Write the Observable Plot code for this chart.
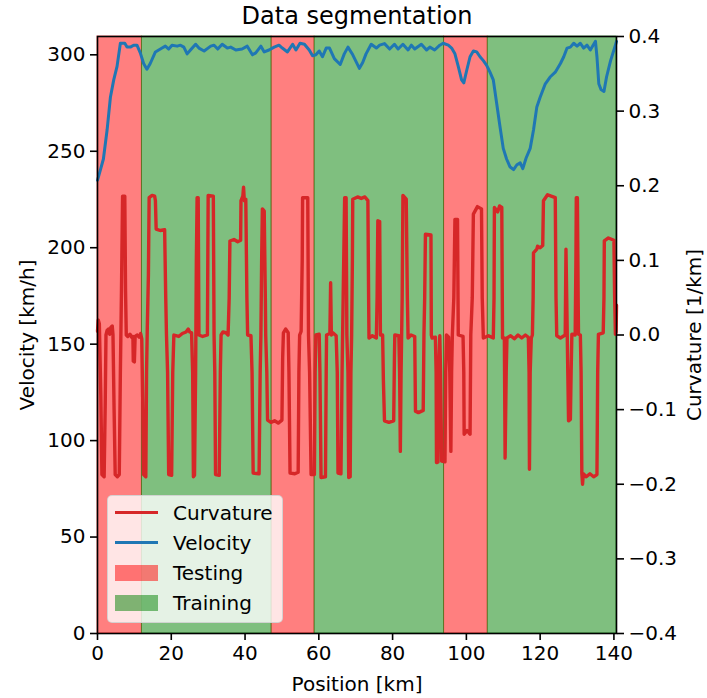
<!DOCTYPE html>
<html><head><meta charset="utf-8">
<script src="https://cdn.jsdelivr.net/npm/d3@7"></script>
<script src="https://cdn.jsdelivr.net/npm/@observablehq/plot@0.6"></script>
<style>
body{margin:0;background:#fff;}
#wrap{position:relative;width:707px;height:698px;font-family:"DejaVu Sans",sans-serif;}
.lg{position:absolute;}
.lt{position:absolute;font-size:20px;line-height:24px;color:#000;white-space:nowrap;}
</style></head><body><div id="wrap"></div>
<script>
const xTicks = [0, 20, 40, 60, 80, 100, 120, 140];
const velocityTicks = [0, 50, 100, 150, 200, 250, 300];
const curvatureTicks = [-0.4, -0.3, -0.2, -0.1, 0, 0.1, 0.2, 0.3, 0.4];
const curvatureTickLabels = ["−0.4", "−0.3", "−0.2", "−0.1", "0.0", "0.1", "0.2", "0.3", "0.4"];
const segmentNames = ["Testing", "Training", "Testing", "Training", "Testing", "Training"];
const segmentStart = [0, 12.05, 47.2, 58.85, 93.95, 105.8];
const segmentEnd = [12.05, 47.2, 58.85, 93.95, 105.8, 140.7];

const velocityPos = [0, 0.3, 1.6, 2.6, 3.5, 4.4, 5.3, 6.2, 7.4, 8.0, 8.9, 9.8, 10.7, 11.6, 12.5, 13.4, 14.3, 15.7, 16.6, 17.5, 18.4, 19.3, 20.2, 21.6, 22.5, 23.4, 24.3, 25.2, 26.6, 27.5, 28.9, 30.7, 31.6, 32.6, 33.8, 35.2, 36.1, 37.5, 39.2, 40.6, 42.0, 42.9, 44.3, 45.2, 46.5, 47.9, 49.2, 50.1, 51.5, 52.9, 53.8, 54.9, 56.1, 57.4, 58.3, 59.2, 60.1, 61.0, 62.0, 62.9, 64.2, 65.8, 66.9, 67.9, 69.2, 71.0, 71.9, 72.8, 74.2, 75.6, 76.5, 77.8, 79.2, 80.5, 81.5, 82.8, 84.2, 85.1, 86.0, 87.8, 89.2, 90.1, 91.4, 92.8, 93.7, 95.1, 96.0, 96.9, 97.8, 98.7, 99.3, 100.1, 101.0, 101.9, 102.8, 103.7, 104.6, 105.5, 106.4, 107.3, 108.2, 109.1, 110.0, 110.9, 111.8, 112.8, 113.7, 114.6, 115.3, 116.2, 117.3, 118.2, 119.1, 120.0, 121.4, 122.7, 124.1, 125.5, 126.4, 127.3, 128.2, 129.1, 130.0, 130.9, 131.8, 132.7, 133.6, 135.0, 135.4, 135.9, 136.5, 137.3, 138.0, 139.1, 140.4, 140.7];
const velocityVal = [235, 237, 246, 261, 278, 287, 294, 306, 306, 304, 304, 305, 305, 301, 295.5, 292.5, 295.5, 301.5, 302.5, 303.5, 304.5, 303, 305, 304.5, 305, 304, 300.5, 302.5, 305.5, 303.5, 302, 304.5, 305, 303, 305.5, 303.5, 304, 302.5, 303, 304.5, 300, 301, 304.5, 301.5, 302.5, 304, 305, 303.5, 301.5, 305.5, 302.5, 306, 305.5, 302.5, 299.5, 300, 302, 299, 303.5, 303.5, 298, 295, 300.5, 304, 300, 293, 296, 300.5, 305.5, 303.5, 305, 305.8, 303, 305.5, 303, 305.5, 302.5, 305, 303, 305.5, 302.5, 304, 302.5, 305, 306, 305, 303.5, 300.5, 294, 287, 285.5, 292, 299, 302, 301.5, 299, 297, 294.5, 291, 287, 275, 263, 251.5, 246, 242, 240.5, 243, 244, 241, 246.5, 251.5, 261, 273, 278, 285, 288.5, 291, 295.5, 299, 303.5, 304, 306, 304.5, 306, 303.5, 305, 302.5, 307, 299, 285, 282, 281, 288.5, 297, 305, 307];

// [position km, curvature 1/km]
const curvature = [
[0.0,0.005],[0.2,0.02],[0.5,0.015],[0.9,-0.08],[1.2,-0.187],[1.8,-0.19],[2.1,-0.09],[2.3,0.0],[2.6,0.006],[3.0,0.008],[3.3,0.001],[3.6,0.01],[4.0,0.012],[4.2,0.0],[4.5,-0.1],[4.8,-0.187],[5.4,-0.19],[5.9,-0.187],[6.2,-0.05],[6.5,0.06],[6.8,0.186],[7.4,0.186],[7.6,0.06],[7.8,0.0],[8.2,-0.002],[8.8,0.001],[9.3,-0.003],[9.6,-0.002],[9.7,-0.035],[10.0,-0.036],[10.2,-0.002],[10.8,0.0],[11.3,-0.003],[11.7,0.002],[12.0,-0.005],[12.3,-0.1],[12.5,-0.187],[13.1,-0.19],[13.3,-0.05],[13.5,0.01],[13.8,0.08],[14.0,0.184],[14.8,0.187],[15.5,0.186],[15.7,0.18],[15.9,0.142],[17.0,0.14],[18.2,0.141],[18.5,0.05],[18.7,0.0],[19.0,-0.05],[19.3,-0.187],[20.1,-0.188],[20.4,-0.05],[20.7,0.0],[22.0,-0.002],[23.0,0.002],[24.0,0.004],[24.6,0.008],[25.0,0.004],[25.5,0.003],[25.8,-0.05],[26.0,-0.19],[26.3,-0.188],[26.6,-0.05],[26.8,0.1],[27.0,0.184],[27.3,0.184],[27.5,0.0],[28.5,-0.002],[29.8,0.0],
[30.0,0.187],[31.4,0.186],[31.6,0.0],[31.8,-0.05],[32.0,-0.187],[33.0,-0.188],[33.3,-0.05],[33.5,0.0],[34.0,0.004],[34.8,0.003],[35.4,0.0],[35.7,0.05],[35.9,0.126],[37.0,0.128],[38.0,0.125],[38.8,0.127],[38.9,0.18],[39.4,0.186],[39.6,0.198],[39.8,0.18],[40.2,0.182],[40.5,0.05],[40.7,0.0],[41.6,-0.001],[41.9,-0.05],[42.2,-0.185],[43.8,-0.186],[44.1,-0.05],[44.3,0.0],[44.5,0.1],[44.7,0.169],[45.2,0.166],[45.5,0.05],[45.6,0.0],[45.9,-0.05],[46.1,-0.114],[47.0,-0.117],[48.0,-0.115],[49.0,-0.118],[50.0,-0.114],[50.2,-0.03],[50.4,0.003],[51.0,0.008],[51.7,0.003],[51.9,-0.05],[52.2,-0.185],[53.5,-0.186],[54.4,-0.184],[54.6,-0.05],[54.8,0.0],[55.2,0.005],[55.5,0.1],[55.6,0.184],[57.0,0.184],[57.2,0.0],[57.5,-0.05],[57.9,-0.187],[58.8,-0.187],[59.0,-0.05],[59.2,0.0],[60.1,0.001],[60.3,-0.05],[60.6,-0.191],[61.8,-0.19],[62.0,-0.05],[62.1,0.0],[63.0,0.002],[63.2,0.07],[63.4,0.0],[63.8,0.003],[64.7,-0.001],[65.0,-0.05],[65.2,-0.185],[66.0,-0.186],[66.3,-0.05],[66.6,0.05],[67.0,0.184],[67.4,0.184],[67.6,0.0],[67.9,-0.05],[68.1,-0.191],[68.5,-0.19],[68.7,-0.05],[68.9,0.0],[69.1,0.1],[69.2,0.182],[70.5,0.185],[71.5,0.183],[72.5,0.185],[73.3,0.18],[73.5,0.05],[73.6,-0.004],[74.5,-0.001],[75.6,-0.004],[75.8,0.05],[76.0,0.153],[76.5,0.152],[76.7,0.0],[77.3,0.0],[77.5,-0.06],[77.8,-0.115],[79.0,-0.117],[80.3,-0.115],[80.5,-0.03],[80.6,0.0],[81.7,-0.001],[81.9,-0.05],[82.1,-0.156],[82.3,-0.05],[82.6,0.05],[82.8,0.187],[83.7,0.182],[84.0,0.05],[84.2,-0.004],[85.0,0.0],[86.0,-0.002],[86.2,-0.102],[87.0,-0.104],[88.3,-0.101],[88.5,0.0],[88.7,0.05],[88.9,0.135],[90.4,0.134],[90.5,0.0],[90.7,-0.004],[91.6,-0.003],[91.8,-0.05],[91.9,-0.171],[92.3,-0.17],[92.5,-0.05],[92.8,-0.001],[93.0,-0.05],[93.3,-0.169],[94.2,-0.17],[94.4,-0.05],[94.6,0.0],[95.2,-0.003],[95.5,-0.05],[95.8,-0.156],[96.0,-0.05],[96.2,0.0],[96.6,0.05],[96.9,0.155],[97.6,0.155],[97.8,0.0],[99.1,-0.002],[99.3,-0.05],[99.4,-0.133],[100.2,-0.128],[101.0,-0.133],[101.2,0.0],[101.6,0.05],[101.9,0.162],[103.0,0.172],[104.1,0.169],[104.3,0.05],[104.6,-0.004],[106.0,-0.001],[107.3,-0.004],[107.5,0.05],[107.6,0.171],[108.5,0.165],[109.0,0.173],[109.6,0.171],[109.8,-0.004],[110.3,-0.004],[110.5,-0.165],[110.8,-0.05],[111.0,-0.004],[112.0,-0.001],[113.0,-0.005],[114.0,0.0],[115.0,-0.004],[116.0,0.0],[116.8,-0.003],[117.0,-0.05],[117.1,-0.18],[117.3,-0.05],[117.6,-0.004],[117.9,0.0],[118.1,0.05],[118.2,0.11],[119.1,0.115],[119.3,0.119],[120.0,0.117],[120.7,0.12],[120.9,0.18],[122.0,0.188],[123.0,0.186],[124.1,0.184],[124.3,0.05],[124.5,-0.001],[125.5,-0.004],[126.8,0.0],[127.0,0.115],[127.2,0.05],[127.5,-0.05],[127.7,-0.115],[128.2,-0.113],[128.4,-0.05],[128.6,0.001],[129.5,0.0],[129.7,0.1],[129.8,0.184],[130.1,0.184],[130.3,0.05],[130.4,0.001],[130.9,0.0],[131.1,-0.05],[131.3,-0.185],[131.5,-0.2],[131.7,-0.186],[132.5,-0.19],[133.5,-0.186],[134.5,-0.19],[135.4,-0.187],[135.6,-0.05],[135.8,0.001],[137.1,0.003],[137.3,0.05],[137.4,0.126],[138.5,0.13],[140.0,0.127],[140.2,0.05],[140.4,0.001],[140.6,0.004],[140.7,0.04]
];

const X_MAX = 140.7, V_MAX = 309.5, C_MIN = -0.4, C_MAX = 0.4;
const c2v = d3.scaleLinear([C_MIN, C_MAX], [0, V_MAX]);
const segs = segmentNames.map((name, i) => ({name, x1: segmentStart[i], x2: segmentEnd[i]}));
const vel = velocityPos.map((x, i) => ({x, v: velocityVal[i]}));
const curv = curvature.map(([x, c]) => ({x, c, v: c2v(c)}));
const curvTickPos = curvatureTicks.map(c => c2v(c));
const labelFor = (d) => curvatureTickLabels[curvTickPos.findIndex(p => Math.abs(p - d) < 1e-6)];

const FONT = 20;
const lbl = {textAnchor: "middle", lineAnchor: "middle", fill: "black", text: d => d};
const plot = Plot.plot({
  width: 707, height: 698,
  marginLeft: 97, marginRight: 91, marginTop: 36, marginBottom: 65,
  style: {fontFamily: "DejaVu Sans", fontSize: FONT + "px", background: "white", color: "black"},
  x: {domain: [0, X_MAX]},
  y: {domain: [0, V_MAX]},
  marks: [
    Plot.rect(segs.filter(d => d.name === "Testing"), {x1: "x1", x2: "x2", fill: "red", fillOpacity: 0.5, stroke: "red", strokeOpacity: 0.5, strokeWidth: 1}),
    Plot.rect(segs.filter(d => d.name === "Training"), {x1: "x1", x2: "x2", fill: "green", fillOpacity: 0.5, stroke: "green", strokeOpacity: 0.5, strokeWidth: 1}),
    Plot.line(vel, {x: "x", y: "v", stroke: "#1f77b4", strokeWidth: 3}),
    Plot.line(curv, {x: "x", y: "v", stroke: "#d62728", strokeWidth: 3.4}),
    Plot.frame({stroke: "black", strokeWidth: 1.6}),
    Plot.axisX({ticks: xTicks, tickSize: 7, tickPadding: 5, label: null, strokeWidth: 1.6, fontSize: FONT}),
    Plot.axisY({ticks: velocityTicks, tickSize: 7, tickPadding: 5, label: null, strokeWidth: 1.6, fontSize: FONT}),
    Plot.axisY({anchor: "right", ticks: curvTickPos, tickFormat: labelFor, tickSize: 7, tickPadding: 5, label: null, strokeWidth: 1.6, fontSize: FONT}),
    Plot.text(["Data segmentation"], {...lbl, frameAnchor: "top", dy: -20, fontSize: 24}),
    Plot.text(["Position [km]"], {...lbl, frameAnchor: "bottom", dy: 51, fontSize: FONT}),
    Plot.text(["Velocity [km/h]"], {...lbl, frameAnchor: "left", dx: -70, rotate: -90, fontSize: FONT}),
    Plot.text(["Curvature [1/km]"], {...lbl, frameAnchor: "right", dx: 78, rotate: -90, fontSize: FONT})
  ]
});
const wrap = document.getElementById("wrap");
wrap.appendChild(plot);

// legend
const legendEntries = [
  {label: "Curvature", kind: "line", color: "#d62728"},
  {label: "Velocity", kind: "line", color: "#1f77b4"},
  {label: "Testing", kind: "patch", color: "rgba(255,0,0,0.5)"},
  {label: "Training", kind: "patch", color: "rgba(0,128,0,0.5)"}
];
const box = document.createElement("div");
box.className = "lg";
Object.assign(box.style, {left: "107px", top: "495px", width: "176px", height: "128px", background: "rgba(255,255,255,0.8)", border: "1px solid rgba(204,204,204,0.8)", borderRadius: "5px", boxSizing: "border-box"});
wrap.appendChild(box);
const rowCenters = [512.7, 542.7, 573, 603];
legendEntries.forEach((e, i) => {
  const cy = rowCenters[i];
  const sw = document.createElement("div");
  sw.className = "lg";
  if (e.kind === "line") {
    Object.assign(sw.style, {left: "115px", top: (cy - 1.5) + "px", width: "43px", height: "3px", background: e.color});
  } else {
    Object.assign(sw.style, {left: "115px", top: (cy - 8) + "px", width: "43px", height: "16px", background: e.color});
  }
  wrap.appendChild(sw);
  const t = document.createElement("div");
  t.className = "lt";
  t.textContent = e.label;
  Object.assign(t.style, {left: "173px", top: (cy - 12) + "px"});
  wrap.appendChild(t);
});
</script></body></html>
